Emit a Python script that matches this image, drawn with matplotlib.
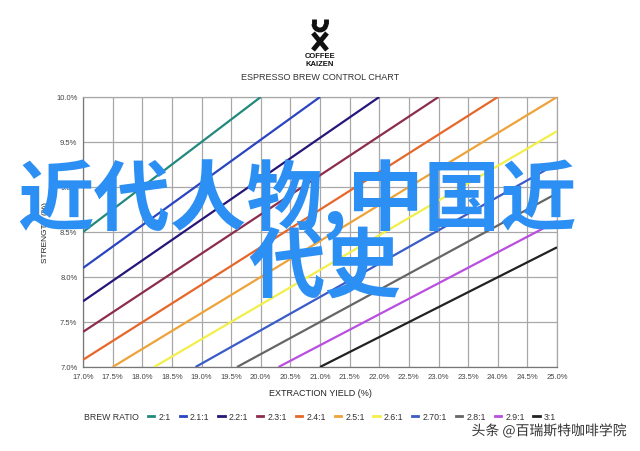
import matplotlib
matplotlib.use("Agg")
import matplotlib.pyplot as plt
from matplotlib.lines import Line2D
from matplotlib.patches import Arc
import matplotlib.patheffects as pe

# ---- data ----
ratios = ["2:1", "2.1:1", "2.2:1", "2.3:1", "2.4:1", "2.5:1",
          "2.6:1", "2.70:1", "2.8:1", "2.9:1", "3:1"]
start_ey = [17.0, 17.0, 17.0, 17.0, 17.0, 17.5, 18.2, 18.9, 19.6, 20.3, 21.0]
start_str = [8.50, 8.10, 7.73, 7.39, 7.08, 7.0, 7.0, 7.0, 7.0, 7.0, 7.0]
end_ey = [20.0, 21.0, 22.0, 23.0, 24.0, 25.0, 25.0, 25.0, 25.0, 25.0, 25.0]
end_str = [10.0, 10.0, 10.0, 10.0, 10.0, 10.0, 9.62, 9.26, 8.93, 8.62, 8.33]
colors = ["#22897c", "#2b44c0", "#27157a", "#8c2d4e", "#e5672a", "#eea23a",
          "#f2ef4a", "#3a5bc8", "#666666", "#b94ee0", "#222222"]
x_ticks = [17.0, 17.5, 18.0, 18.5, 19.0, 19.5, 20.0, 20.5, 21.0, 21.5,
           22.0, 22.5, 23.0, 23.5, 24.0, 24.5, 25.0]
y_ticks = [7.0, 7.5, 8.0, 8.5, 9.0, 9.5, 10.0]

plt.rcParams['font.family'] = ['Liberation Sans', 'DejaVu Sans']

fig = plt.figure(figsize=(6.4, 4.52), dpi=100)
ax = fig.add_axes([83/640, 1-368/452, (557-83)/640, (368-98)/452])

for i in range(len(ratios)):
    ax.plot([start_ey[i], end_ey[i]], [start_str[i], end_str[i]],
            color=colors[i], lw=1.6, solid_capstyle='butt', zorder=3)

ax.set_xlim(17, 25)
ax.set_ylim(7, 10)
ax.set_xticks(x_ticks)
ax.set_yticks(y_ticks)
ax.set_xticklabels([f"{v:.1f}%" for v in x_ticks])
ax.set_yticklabels([f"{v:.1f}%" for v in y_ticks])
ax.tick_params(length=0, labelsize=5.5, colors="#444444", pad=4)
ax.grid(True, color="#a8a8a8", lw=0.9, zorder=0)
for s in ax.spines.values():
    s.set_color("#a8a8a8")
    s.set_linewidth(0.9)
ax.spines['left'].set_color("#777777")
ax.spines['bottom'].set_color("#777777")
ax.set_xlabel("EXTRACTION YIELD (%)", fontsize=6.5, color="#222222", labelpad=6)
ax.set_ylabel("STRENGTH (%)", fontsize=6, color="#222222", labelpad=5)

# legend
handles = [Line2D([], [], color='none')]
labels = ["BREW RATIO"]
for i in range(len(ratios)):
    handles.append(Line2D([], [], color=colors[i], lw=2))
    labels.append(ratios[i])
leg = fig.legend(handles, labels, loc='center', bbox_to_anchor=(315/640, 1-418/452),
                 ncol=12, frameon=False, fontsize=6.3, handlelength=0.7,
                 handletextpad=0.5, columnspacing=1.0, borderpad=0)
for t in leg.get_texts():
    t.set_color("#333333")

# title & logo
fig.text(320/640, 1-78/452, "ESPRESSO BREW CONTROL CHART", ha='center', va='center',
         fontsize=6.5, color="#333333")
fig.text(320/640, 1-57/452, "COFFEE", ha='center', va='center', fontsize=5.5,
         fontweight='bold', color="#111111")
fig.text(320/640, 1-64/452, "KAIZEN", ha='center', va='center', fontsize=5.5,
         fontweight='bold', color="#111111")
lax = fig.add_axes([300/640, 1-53/452, 40/640, 34/452])
lax.set_xlim(0, 40); lax.set_ylim(0, 34); lax.axis('off')
lax.add_patch(Arc((20, 28), 12, 12, theta1=180, theta2=360, lw=3.5, color="#111111"))
lax.plot([14, 14], [28, 33], color="#111111", lw=3.5, solid_capstyle='butt')
lax.plot([26, 26], [28, 33], color="#111111", lw=3.5, solid_capstyle='butt')
lax.plot([13, 27], [19, 2], color="#111111", lw=3.5, solid_capstyle='butt')
lax.plot([27, 13], [19, 2], color="#111111", lw=3.5, solid_capstyle='butt')

# big overlay text
cjk = ['Noto Sans CJK SC', 'DejaVu Sans']
fig.text(297/640, 1-200/452, "近代人物,中国近", ha='center', va='center',
         fontsize=55, fontweight='bold', color="#2b8ff3", family=cjk, zorder=10)
fig.text(325/640, 1-268/452, "代史", ha='center', va='center',
         fontsize=55, fontweight='bold', color="#2b8ff3", family=cjk, zorder=10)

# watermark
fig.text(549/640, 1-432/452, "头条 @百瑞斯特咖啡学院", ha='center', va='center',
         fontsize=10, color="#333333", family=cjk, zorder=10,
         path_effects=[pe.withStroke(linewidth=2, foreground='white')])

fig.savefig("out.png", dpi=100)
